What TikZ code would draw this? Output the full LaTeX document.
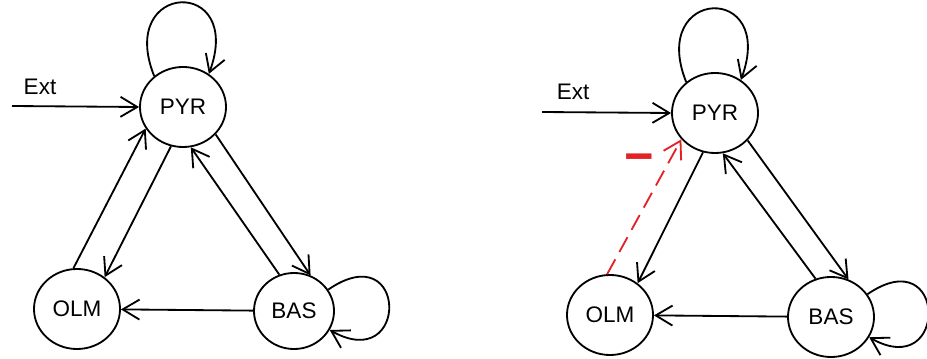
\documentclass[tikz,border=0pt]{standalone}
\usepackage{fontspec}
\setmainfont{Liberation Sans}
\usetikzlibrary{arrows.meta,shapes.geometric}
\definecolor{inhibred}{RGB}{225,35,40}

\begin{document}
\begin{tikzpicture}[x=0.025cm,y=-0.025cm,line width=1.3pt,
    every node/.style={font=\fontsize{16}{18}\selectfont},
    neuron/.style={draw,ellipse,minimum width=2.15cm,minimum height=2cm,inner sep=0pt},
    syn/.style={-{Straight Barb[length=4.2mm,width=5mm]}},
    inhib/.style={syn,draw=inhibred,dash pattern=on 12pt off 6pt}]
  \useasboundingbox (0,0) rectangle (927,359);

  % without inhibition
  \node[neuron] (pyrA) at (183,107) {PYR};
  \node[neuron] (olmA) at (77,309) {OLM};
  \node[neuron,minimum width=2cm,minimum height=1.9cm] (basA) at (294,311) {BAS};
  \coordinate (extA) at (12,106);
  \node at (40,87) {Ext};
  \draw[syn] (extA) -- (pyrA.west);
  \draw[syn] (pyrA.133) .. controls +(-38,-95) and +(36,-98) .. (pyrA.52);
  \draw[syn] (basA.32) .. controls +(80,-55) and +(80,45) .. (basA.-28);
  \draw[syn] (olmA.95) -- (pyrA.210);
  \draw[syn] (pyrA.253) -- (olmA.49);
  \draw[syn] (basA.112) -- (pyrA.281);
  \draw[syn] (pyrA.320) -- (basA.65);
  \draw[syn] (basA) -- (olmA);

  % with OLM -> PYR inhibition
  \node[neuron] (pyrB) at (715,113) {PYR};
  \node[neuron] (olmB) at (610,315) {OLM};
  \node[neuron] (basB) at (831,317) {BAS};
  \coordinate (extB) at (542,112);
  \node at (573,92) {Ext};
  \draw[syn] (extB) -- (pyrB.west);
  \draw[syn] (pyrB.133) .. controls +(-38,-95) and +(36,-98) .. (pyrB.52);
  \draw[syn] (basB.32) .. controls +(80,-55) and +(80,45) .. (basB.-28);
  \draw[inhib] (olmB.94) -- (pyrB.218);
  \node[text=inhibred,font=\fontsize{36}{36}\selectfont\bfseries] (minus) at (639,164) {−};
  \draw[syn] (pyrB.253) -- (olmB.49);
  \draw[syn] (basB.112) -- (pyrB.281);
  \draw[syn] (pyrB.320) -- (basB.65);
  \draw[syn] (basB) -- (olmB);
\end{tikzpicture}
\end{document}
